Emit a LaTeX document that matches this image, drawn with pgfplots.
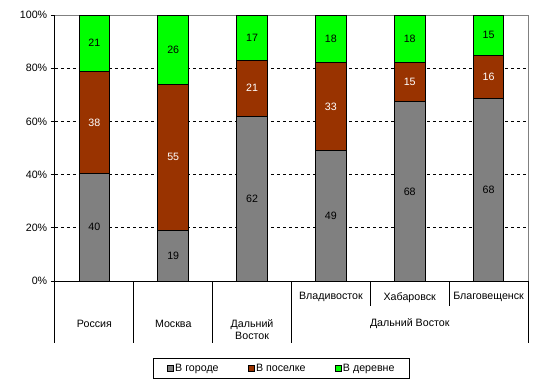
\documentclass[border=0pt]{standalone}
\usepackage{fontspec}
\setmainfont{Liberation Sans}
\usepackage{pgfplots}
\usepackage{pgfplotstable}
\pgfplotsset{compat=1.18}
\definecolor{cGray}{HTML}{808080}
\definecolor{cBrown}{HTML}{993300}
\definecolor{cGreen}{HTML}{00FF00}
\pgfplotstableread{
x a b c
0.5 40 38 21
1.5 19 55 26
2.5 62 21 17
3.5 49 33 18
4.5 68 15 18
5.5 68 16 15
}\data
\begin{document}
\fontsize{8}{9.6}\selectfont
\begin{tikzpicture}
\path[use as bounding box] (0pt,0pt) rectangle (405pt,290.25pt);
\begin{axis}[
 at={(41.25pt,79.5pt)}, anchor=south west,
 scale only axis, width=354.75pt, height=199.5pt,
 xmin=0, xmax=6, ymin=0, ymax=100,
 clip=false,
 axis x line*=bottom, axis y line*=left,
 axis line style={-, black, line width=0.75pt},
 xtick=\empty,
 ytick={0,20,...,100},
 yticklabel={\pgfmathprintnumber{\tick}\%},
 /pgf/number format/assume math mode=true,
 tick align=outside, major tick length=3pt,
 tick style={black, line width=0.75pt},
 extra y ticks={20,40,60,80}, extra y tick labels={},
 extra y tick style={grid=major},
 major grid style={black, line width=0.75pt, dash pattern=on 2.25pt off 2.25pt},
 legend style={at={(0.479,-0.329)}, anchor=center, legend columns=3, draw=black, line width=0.75pt,
   inner xsep=10.5pt, inner ysep=2.2pt,
   /tikz/every even column/.append style={column sep=21pt},
   nodes={inner xsep=1pt, inner ysep=2pt}},
 nodes near coords style={anchor=center, inner sep=0pt},
]
\draw[cGray, line width=0.75pt] (axis cs:0,100) -- (axis cs:6,100) -- (axis cs:6,0);
\addplot[ybar, bar width=0.39, bar shift=0pt, fill=cGreen, draw=black, line width=0.75pt, forget plot]
  table[x=x, y expr={(\thisrow{a}+\thisrow{b}+\thisrow{c})/(\thisrow{a}+\thisrow{b}+\thisrow{c})*100}] {\data};
\addplot[ybar, bar width=0.39, bar shift=0pt, fill=cBrown, draw=black, line width=0.75pt, forget plot]
  table[x=x, y expr={(\thisrow{a}+\thisrow{b})/(\thisrow{a}+\thisrow{b}+\thisrow{c})*100}] {\data};
\addplot[ybar, bar width=0.39, bar shift=0pt, fill=cGray, draw=black, line width=0.75pt, forget plot]
  table[x=x, y expr={\thisrow{a}/(\thisrow{a}+\thisrow{b}+\thisrow{c})*100}] {\data};
% labels
\addplot[draw=none, mark=none, forget plot, nodes near coords, point meta=explicit symbolic,
  nodes near coords style={text=black}]
  table[x=x, y expr={0.5*\thisrow{a}/(\thisrow{a}+\thisrow{b}+\thisrow{c})*100}, meta=a] {\data};
\addplot[draw=none, mark=none, forget plot, nodes near coords, point meta=explicit symbolic,
  nodes near coords style={text=white}]
  table[x=x, y expr={(\thisrow{a}+0.5*\thisrow{b})/(\thisrow{a}+\thisrow{b}+\thisrow{c})*100}, meta=b] {\data};
\addplot[draw=none, mark=none, forget plot, nodes near coords, point meta=explicit symbolic,
  nodes near coords style={text=black}]
  table[x=x, y expr={(\thisrow{a}+\thisrow{b}+0.5*\thisrow{c})/(\thisrow{a}+\thisrow{b}+\thisrow{c})*100}, meta=c] {\data};
% category table
\draw[black, line width=0.75pt] (axis cs:0,0) -- (axis cs:0,-23.3);
\draw[black, line width=0.75pt] (axis cs:1,0) -- (axis cs:1,-23.3);
\draw[black, line width=0.75pt] (axis cs:2,0) -- (axis cs:2,-23.3);
\draw[black, line width=0.75pt] (axis cs:3,0) -- (axis cs:3,-23.3);
\draw[black, line width=0.75pt] (axis cs:6,0) -- (axis cs:6,-23.3);
\draw[black, line width=0.75pt] (axis cs:4,0) -- (axis cs:4,-9.4);
\draw[black, line width=0.75pt] (axis cs:5,0) -- (axis cs:5,-9.4);
\node at (axis cs:3.5,-6.1) {Владивосток};
\node at (axis cs:4.5,-6.1) {Хабаровск};
\node at (axis cs:5.5,-6.1) {Благовещенск};
\node at (axis cs:0.5,-16.1) {Россия};
\node at (axis cs:1.5,-16.1) {Москва};
\node[align=center, font=\fontsize{8}{9.2}\selectfont] at (axis cs:2.5,-18.3) {Дальний\\Восток};
\node at (axis cs:4.5,-16.1) {Дальний Восток};
% legend
\addlegendimage{legend image code/.code={\draw[fill=cGray, draw=black, line width=0.6pt] (0pt,-2.2pt) rectangle (4.4pt,2.2pt);}}
\addlegendentry{В городе}
\addlegendimage{legend image code/.code={\draw[fill=cBrown, draw=black, line width=0.6pt] (0pt,-2.2pt) rectangle (4.4pt,2.2pt);}}
\addlegendentry{В поселке}
\addlegendimage{legend image code/.code={\draw[fill=cGreen, draw=black, line width=0.6pt] (0pt,-2.2pt) rectangle (4.4pt,2.2pt);}}
\addlegendentry{В деревне}
\end{axis}
\end{tikzpicture}
\end{document}
